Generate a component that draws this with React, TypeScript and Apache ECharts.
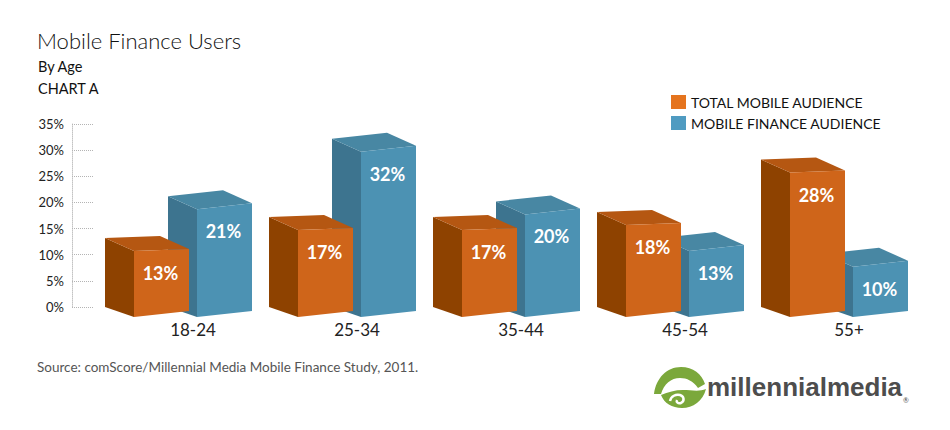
import React, { useEffect, useRef } from "react";
import * as echarts from "echarts";

const categories = ["18-24", "25-34", "35-44", "45-54", "55+"];
const totalMobileAudience = [13, 17, 17, 18, 28];
const mobileFinanceAudience = [21, 32, 20, 13, 10];
const seriesNames = ["TOTAL MOBILE AUDIENCE", "MOBILE FINANCE AUDIENCE"];
const yMin = 0;
const yMax = 35;
const yInterval = 5;

const FONT = "Lato, 'Open Sans', sans-serif";

const palettes = [
  { front: "#CF651A", side: "#8E4200", top: "#B55712", legend: "#E5741E", slope: 2, offset: -59 },
  { front: "#4C92B3", side: "#3D748F", top: "#4887A3", legend: "#4F9BC1", slope: 6, offset: 4 },
];

echarts.graphic.registerShape(
  "mmDome",
  echarts.graphic.extendPath(
    "M1 28 C3 12 14 1 28 1 C40 1 49 8 52 18 L45 22 C40 15 34 12 27 12 C18 12 11 18 8 28 Z",
    {}
  )
);
echarts.graphic.registerShape(
  "mmBowl",
  echarts.graphic.extendPath(
    "M8 29 C15 26 22 24 30 24 C38 24 46 26 53 23 C50 35 40 42 29 42 C19 42 11 37 8 29 Z",
    {}
  )
);
echarts.graphic.registerShape(
  "mmSwirl",
  echarts.graphic.extendPath(
    "M17 35 C18 30 23 28 27 29 C31 30 32 35 28 37 C25 38 23 36 24 34",
    {}
  )
);

function makeRender(si: number) {
  const p = palettes[si];
  return (params: any, api: any) => {
    const i = api.value(0);
    const v = api.value(1);
    const base = api.coord([i, 0]);
    const top = api.coord([i, v]);
    const W = 55;
    const DX = 29;
    const DY = 13;
    const fx = base[0] + p.offset;
    const flT = top[1] + 12;
    const frT = flT - p.slope;
    const flB = base[1] + 10;
    const frB = base[1] + 4;
    return {
      type: "group",
      children: [
        {
          type: "polygon",
          shape: { points: [[fx, flT], [fx, flB], [fx - DX, flB - 10], [fx - DX, flT - DY]] },
          style: { fill: p.side },
        },
        {
          type: "polygon",
          shape: { points: [[fx, flT], [fx + W, frT], [fx + W - DX, frT - DY], [fx - DX, flT - DY]] },
          style: { fill: p.top },
        },
        {
          type: "polygon",
          shape: { points: [[fx, flT], [fx + W, frT], [fx + W, frB], [fx, flB]] },
          style: { fill: p.front },
        },
        {
          type: "text",
          style: {
            text: v + "%",
            x: fx + W / 2 - 1,
            y: flT + 22,
            fill: "#ffffff",
            fontSize: 18,
            fontWeight: "bold",
            fontFamily: FONT,
            align: "center",
            verticalAlign: "middle",
          },
        },
      ],
    };
  };
}

export default function App() {
  const ref = useRef<HTMLDivElement>(null);
  useEffect(() => {
    if (!ref.current) return;
    const chart = echarts.init(ref.current, undefined, { renderer: "svg" });
    const option: any = {
      animation: false,
      backgroundColor: "#ffffff",
      grid: { left: 111, right: 19, top: 124, bottom: 123 },
      legend: {
        orient: "vertical",
        left: 666,
        top: 90,
        itemWidth: 15,
        itemHeight: 14,
        itemGap: 7,
        icon: "rect",
        selectedMode: false,
        data: seriesNames,
        textStyle: { fontSize: 14, color: "#111", fontFamily: FONT },
      },
      xAxis: {
        type: "category",
        data: categories,
        axisLine: { show: false },
        axisTick: { show: false },
        axisLabel: { margin: 14, fontSize: 17, color: "#222", fontFamily: FONT },
      },
      yAxis: {
        type: "value",
        min: yMin,
        max: yMax,
        interval: yInterval,
        position: "left",
        offset: 39,
        axisLine: { show: true, lineStyle: { color: "#c4c4c4", type: "dotted" } },
        axisTick: { show: true, inside: true, length: 21, lineStyle: { color: "#b4b4b4", type: "dotted" } },
        splitLine: { show: false },
        axisLabel: { formatter: "{value}%", margin: 8, fontSize: 13, color: "#222", fontFamily: FONT },
      },
      series: [
        {
          type: "custom",
          name: seriesNames[1],
          renderItem: makeRender(1),
          data: mobileFinanceAudience.map((v, i) => [i, v]),
          encode: { x: 0, y: 1 },
          itemStyle: { color: palettes[1].legend },
          z: 2,
        },
        {
          type: "custom",
          name: seriesNames[0],
          renderItem: makeRender(0),
          data: totalMobileAudience.map((v, i) => [i, v]),
          encode: { x: 0, y: 1 },
          itemStyle: { color: palettes[0].legend },
          z: 3,
        },
      ],
      graphic: [
        {
          type: "text",
          x: 37,
          y: 40,
          style: { text: "Mobile Finance Users", fontSize: 22, fontWeight: 300, fill: "#111", fontFamily: FONT, verticalAlign: "middle" },
        },
        {
          type: "text",
          x: 38,
          y: 66,
          style: { text: "By Age", fontSize: 14.5, fill: "#111", fontFamily: FONT, verticalAlign: "middle" },
        },
        {
          type: "text",
          x: 38,
          y: 88,
          style: { text: "CHART A", fontSize: 14.5, fill: "#111", fontFamily: FONT, verticalAlign: "middle" },
        },
        {
          type: "text",
          x: 37,
          y: 367,
          style: {
            text: "Source: comScore/Millennial Media Mobile Finance Study, 2011.",
            fontSize: 13.5,
            fill: "#555",
            fontFamily: FONT,
            verticalAlign: "middle",
          },
        },
        { type: "mmDome", x: 653, y: 366, style: { fill: "#7BA83B" } },
        { type: "mmBowl", x: 653, y: 366, style: { fill: "#7BA83B" } },
        { type: "mmSwirl", x: 653, y: 366, style: { fill: null, stroke: "#ffffff", lineWidth: 2.5 } },
        {
          type: "text",
          x: 707,
          y: 387,
          style: {
            text: "millennialmedia",
            fontSize: 26,
            fontWeight: "bold",
            fill: "#4d4d4d",
            fontFamily: "'Liberation Sans', Arial, sans-serif",
            verticalAlign: "middle",
          },
        },
        {
          type: "text",
          x: 903,
          y: 400,
          style: { text: "®", fontSize: 7, fill: "#4d4d4d", fontFamily: FONT, verticalAlign: "middle" },
        },
      ],
    };
    chart.setOption(option);
    return () => chart.dispose();
  }, []);
  return (
    <div
      ref={ref}
      style={{ position: "fixed", left: 0, top: 0, width: 950, height: 430, background: "#fff" }}
    />
  );
}
